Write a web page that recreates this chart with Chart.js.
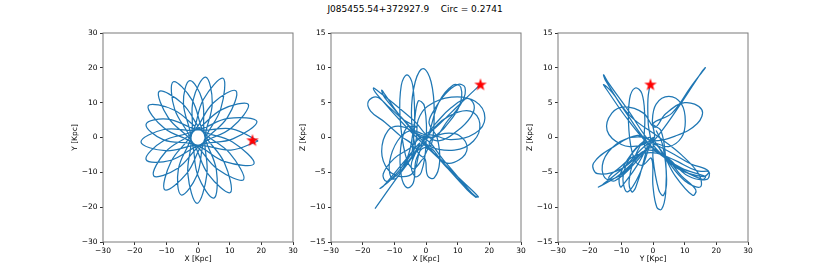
<!DOCTYPE html>
<html>
<head>
<meta charset="utf-8">
<script src="https://cdn.jsdelivr.net/npm/chart.js@4"></script>
<style>
  body { margin: 0; background: #fff; width: 830px; height: 277px; position: relative; overflow: hidden; font-family: 'DejaVu Sans', sans-serif; }
  #title { position: absolute; top: 4px; left: 0; width: 830px; text-align: center; font-size: 9px; color: #000; white-space: pre; }
  canvas { position: absolute; }
</style>
</head>
<body>
<div id="title">J085455.54+372927.9    Circ = 0.2741</div>
<canvas id="xy" width="240" height="243" style="left:63px;top:25px"></canvas>
<canvas id="xz" width="240" height="243" style="left:291px;top:25px"></canvas>
<canvas id="yz" width="240" height="243" style="left:518px;top:25px"></canvas>
<script>
// orbit, X-Y plane (kpc)
const xyX = [19.0, 10.7, 0.3, -9.6, -16.4, -11.0, -0.7, 8.5, 17.7, 10.9, 1.0, -7.6,
  -15.7, -10.7, -1.3, 6.2, 14.4, 10.0, 1.5, -5.0, -12.3, -9.4, -1.7, 3.2,
  10.2, 8.3, 1.9, -1.9, -7.8, -7.4, -2.1, 0.0, 5.0, 5.8, 2.1, 1.3,
  -2.6, -4.6, -2.2, -3.2, -0.3, 2.8, 2.2, 4.5, 2.4, -1.5, -2.1, -6.2,
  -5.3, -0.4, 2.0, 7.2, 7.9, 1.7, -1.9, -8.5, -10.5, -3.6, 1.7, 9.3,
  12.0, 4.8, -1.5, -10.2, -14.0, -6.5, 1.2, 10.6, 15.9, 7.5, -1.0, -11.0,
  -16.4, -8.8, 0.7, 11.0, 18.6, 9.5, -0.3, -10.8, -18.0, -10.3, 0.0, 10.4, 19.0];
const xyY = [-1.0, 2.5, 2.2, 5.3, 3.8, -0.6, -2.1, -6.9, -7.5, -1.3, 2.0, 7.9,
  9.1, 2.7, -1.8, -9.1, -12.1, -4.5, 1.6, 9.8, 13.2, 5.7, -1.4, -10.5,
  -15.8, -7.2, 1.1, 10.8, 16.0, 8.2, -0.8, -11.0, -17.4, -9.3, 0.5, 10.9,
  16.3, 10.0, -0.2, -10.5, -18.9, -10.6, -0.2, 10.0, 17.3, 10.9, 0.5, -9.1,
  -16.5, -11.0, -0.8, 8.3, 17.0, 10.9, 1.1, -6.9, -15.0, -10.4, -1.4, 5.8,
  13.4, 9.9, 1.6, -4.1, -11.0, -8.9, -1.8, 2.8, 9.5, 8.0, 2.0, -1.0,
  -6.3, -6.6, -2.1, -0.4, 4.6, 5.5, 2.2, 2.3, -1.3, -3.8, -2.2, -3.6, -1.0];

// X-Z plane
const xzX = [17.2, 13, 8, 3, -1,
  1.5, 2.6, 1.6, -0.9, -3.4, -4.6, -3.4, -1, 1.2,
  6, 10.5, 13, 10.5, 6, 1,
  -3, -8, -12, -14, -12, -8, -4, -2,
  0.5, 8, 15.5, 18.6, 15.5, 8, 0.5, -2.5, -3,
  -4.5, -3.6, -4.2, -6, -7.8, -8.2, -6.5, -4,
  -0.5, 0.5, 2.6, 4.3, 3.5, 1,
  2, 6, 10, 12.3, 11.5, 7, 2,
  -4, -10, -15, -16.6, -15.5, -6, 4, 12, 16.5, 15.5, 7, 0,
  -3, -4, -6, -7.8, -8, -6, -3,
  -7, -12, -15.5, -18.2, -17.5, -13, -8, -4,
  -6, -9.2, -11, -11.5, -9, -5, -1,
  4, 10, 14.2, 15.2, 13, 8, 3, -1,
  -8, -13, -14, -13, -4, 5, 13, 15.8, 14.5, 6, -1,
  -5, -10, -13.5, -12.5, -9, -4, 0,
  4, 8.5, 11, 10.5, 6, 1,
  9, 15, 17, 14, 7, 1,
  -4.5, -3.5, -1.5, 0, -0.5, -2.5, -4,
  -6, -11, -14.5, -13.5, -7, -2,
  -5, -10, -16.1];
const xzZ = [7.6, 5.8, 3.6, 1.4, 0,
  -1.2, 3.5, 8.0, 9.9, 8.0, 3.5, -1.2, -2.8, -1.5,
  -3.6, -3.2, -1.5, 0.3, 0.6, 0,
  0.6, 1.6, 1, -2, -4.6, -5.6, -5, -2,
  0.3, -0.3, 0.6, 2.8, 5.2, 5.8, 4.5, 2.5, 0,
  -3, 2, 7.5, 9.0, 7.5, 3, -2.5, -4.5,
  -3, -5.5, -5.8, -3.5, 0, 2,
  3.5, 6.2, 7.6, 7.2, 5.2, 2.5, 0,
  2.5, 4.8, 6.6, 7.1, 6.2, 1.4, -3, -6.5, -8.5, -8.4, -4.5, -1.5,
  -3, -6.5, -7.2, -5.5, -1.5, 1.5, 1.5,
  2.5, 4.5, 5.8, 5.2, 3.8, 2.2, 0.2, -1.3,
  -3.3, -5.8, -5.8, -3.5, -0.5, 1, 0.5,
  -0.5, 1, 3, 4.6, 5.6, 4.3, 2, 0,
  3, 6.2, 6.8, 5.7, 1, -3.5, -7.5, -8.6, -8, -3.5, 0,
  -1.5, -3, -5.2, -6.3, -5.3, -2.5, -0.5,
  5, 7.5, 7.2, 4.5, 1.5, -1,
  -1.8, -0.5, 2, 3.8, 3, 0.5,
  -3.5, -5.6, -5, -1, 4.5, 5.2, 1,
  -3, -6, -7.3, -7.0, -3.5, -0.8,
  -3.2, -6.3, -10.2];

// Y-Z plane
const yzY = [-0.9, -1.6, -1.5, -1,
  -8, -14, -15.6, -15, -8, 0, 8, 14, 17.5, 16, 8, 0,
  -2.5, -2.6, -3.5, -5.6, -7.4, -7.6, -6, -3.5,
  -0.5, 0, 1.2, 2.7, 4, 4, 2.5, 0,
  6, 12, 16.5, 15.5, 9, 2, -4, -11, -17.2, -16, -9, -2,
  0.5, 5, 9, 10.2, 9, 5, 1, -0.2, 0.5,
  -1, -4.5, -10, -14.5, -13, -8.8, -3, 0.5,
  4, 10, 15.4, 14, 7, 0,
  -5, -12, -18.8, -17.5, -10, -3,
  -5, -9, -10.3, -10.5, -7, -2,
  -3, -5.5, -6.7, -7.5, -5, -1,
  4, 10, 14.9, 14.5, 9, 2,
  -7, -13, -15.6, -14.8, -8, 0, 9, 16.5, 15.5, 7, 0,
  5, 12, 17.5, 17, 11, 3,
  -5, -11, -14, -12, -6, -1,
  -7, -13, -16, -14.5, -9, -3,
  3, 9, 13.5, 12.5, 7, 1,
  -4, -8, -9.5, -8, -4, 0,
  0, 1.8, 3.3, 4.3, 3, 1];
const yzZ = [7.7, 5.5, 2, -0.5,
  4, 7.8, 9.0, 8.2, 3.2, -1.5, -3.5, -4.8, -4.9, -5.6, -4.5, -1.5,
  -1.5, 3, 6.3, 7.1, 5.5, 1, -3, -4,
  -3, -7, -10, -10.3, -8, -3, 1, 2,
  3.5, 7.3, 10, 9.5, 5, 0.5, -2.5, -5.5, -7.1, -6.8, -4.2, -1,
  -0.8, -1.3, 0, 2.3, 4.8, 5.9, 4.8, 2.3, 0,
  -0.5, -1.2, -1, 1.0, 3.5, 4.4, 3.5, 1.5,
  3.4, 5, 4.0, 2, 0.2, -0.5,
  0.3, -1.2, -3.7, -5.2, -4.5, -2,
  -4, -6.5, -7.1, -5.5, -2.5, -0.5,
  -3.5, -7.2, -7.8, -6, -2, 0,
  -3, -6.2, -7.1, -5.3, -2.5, 0,
  3, 6.5, 7.6, 7.0, 2.6, -1.6, -4.4, -5.6, -6.0, -4, -1,
  -2, -3.8, -4.8, -6, -5.5, -2.5,
  -2.5, -4.5, -5.8, -6.2, -3.8, -0.5,
  0, -1.5, -4, -6, -5, -2,
  -2.5, -5.5, -7.5, -8.3, -5.5, -1,
  -1, -3.5, -6, -7.8, -5, 0,
  -3, -7.5, -8.3, -6, -1, 1];

// current position (red star)
const starX = 17.2, starY = -0.8, starZ = 7.6;

const wideRange = [-30, 30];
const zRange = [-15, 15];

// filled star marker
const starImg = document.createElement('canvas');
starImg.width = 14; starImg.height = 14;
const sc = starImg.getContext('2d');
sc.beginPath();
for (let i = 0; i < 10; i++) {
  const r = i % 2 ? 2.6 : 6.6;
  const a = -Math.PI / 2 + i * Math.PI / 5;
  const px = 7 + r * Math.cos(a), py = 7.3 + r * Math.sin(a);
  if (i === 0) sc.moveTo(px, py); else sc.lineTo(px, py);
}
sc.closePath();
sc.fillStyle = '#ff0000';
sc.fill();

const framePlugin = {
  id: 'frame',
  afterDraw(chart) {
    const { ctx, chartArea: a } = chart;
    ctx.save();
    ctx.strokeStyle = '#7a7a7a';
    ctx.lineWidth = 1;
    ctx.strokeRect(a.left, a.top, a.right - a.left, a.bottom - a.top);
    ctx.restore();
  }
};

const tickFont = { family: 'DejaVu Sans', size: 7.5 };
function minusLabel(v) {
  return v < 0 ? '\u2212' + Math.abs(v) : String(v);
}

function makeChart(id, xs, ys, sx, sy, xr, yr, ystep, xTitle, yTitle) {
  const pts = xs.map((v, i) => ({ x: v, y: ys[i] }));
  new Chart(document.getElementById(id), {
    type: 'scatter',
    data: {
      datasets: [
        {
          data: [{ x: sx, y: sy }],
          pointStyle: starImg,
          pointRadius: 7,
          showLine: false
        },
        {
          data: pts,
          showLine: true,
          borderColor: '#1f77b4',
          borderWidth: 1.25,
          pointRadius: 0,
          tension: 0.4,
          fill: false
        }
      ]
    },
    options: {
      responsive: false,
      animation: false,
      layout: { padding: { top: 8, right: 10, left: 0, bottom: 0 } },
      plugins: { legend: { display: false }, tooltip: { enabled: false } },
      scales: {
        x: {
          type: 'linear',
          min: xr[0], max: xr[1],
          afterFit: s => { s.height = 26; },
          border: { display: false },
          grid: { drawOnChartArea: false, drawTicks: true, tickLength: 3, color: '#333' },
          ticks: { stepSize: 10, padding: 2, color: '#000', font: tickFont, maxRotation: 0, callback: minusLabel },
          title: { display: true, text: xTitle, color: '#000', font: tickFont, padding: { top: 0, bottom: 4.5 } }
        },
        y: {
          type: 'linear',
          min: yr[0], max: yr[1],
          afterFit: s => { s.width = 40; },
          border: { display: false },
          grid: { drawOnChartArea: false, drawTicks: true, tickLength: 3, color: '#333' },
          ticks: { stepSize: ystep, padding: 2.5, color: '#000', font: tickFont, callback: minusLabel },
          title: { display: true, text: yTitle, color: '#000', font: tickFont, padding: { top: 7.5, bottom: 0 } }
        }
      }
    },
    plugins: [framePlugin]
  });
}

makeChart('xy', xyX, xyY, starX, starY, wideRange, wideRange, 10, 'X [Kpc]', 'Y [Kpc]');
makeChart('xz', xzX, xzZ, starX, starZ, wideRange, zRange, 5, 'X [Kpc]', 'Z [Kpc]');
makeChart('yz', yzY, yzZ, starY, starZ, wideRange, zRange, 5, 'Y [Kpc]', 'Z [Kpc]');
</script>
</body>
</html>
